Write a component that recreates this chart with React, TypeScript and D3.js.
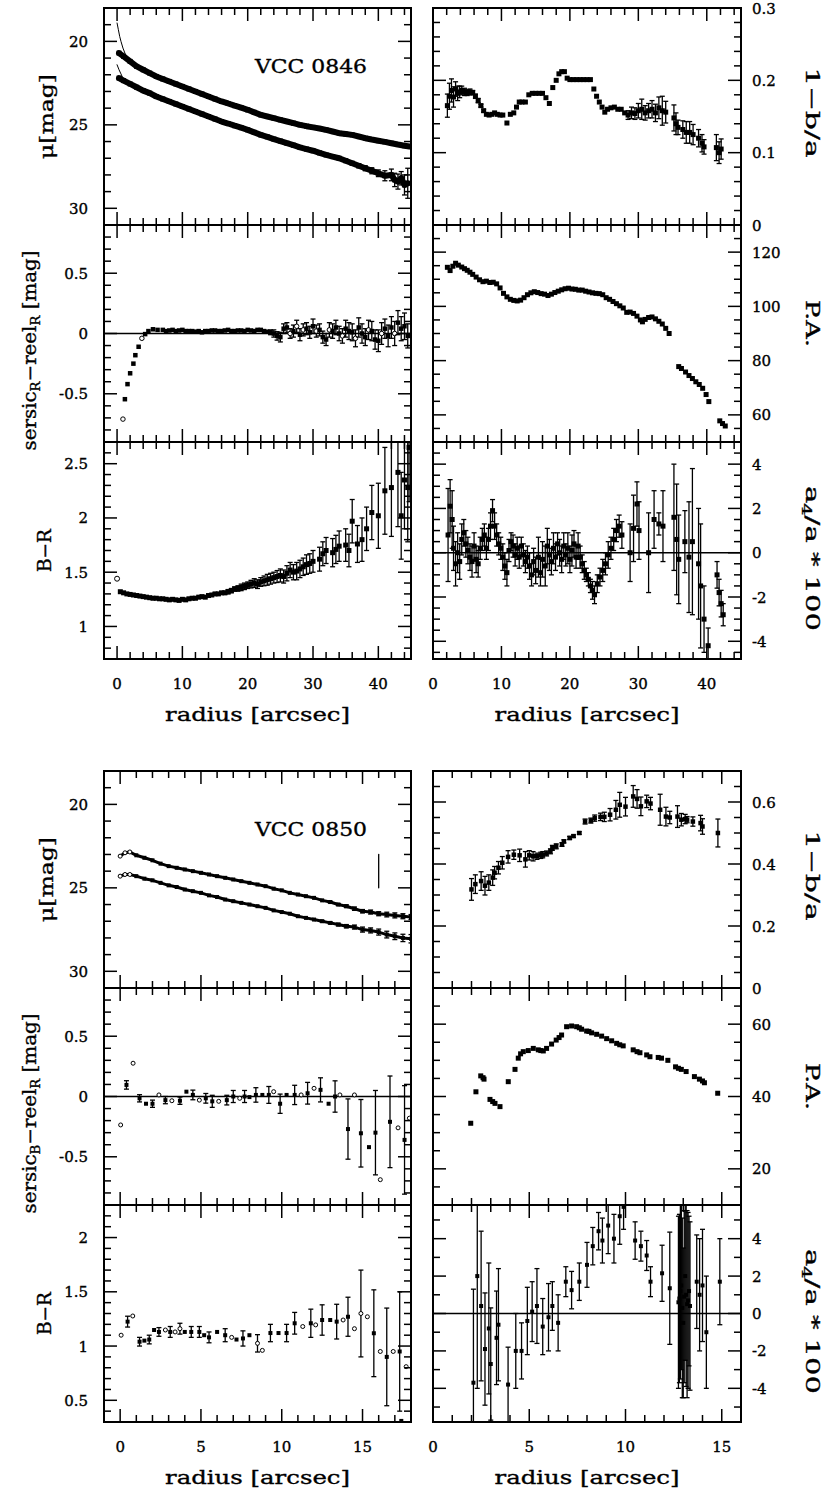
import React from "react";
import * as d3 from "d3";

type Row = number[]; // [radius, value, error?, open?]

// ---------------- VCC 0846 ----------------
const muR0846: Row[] = [[0.3,20.7],[1,20.9],[2,21.2],[3,21.5],[4,21.7],[5,21.9],[6,22.1],[7,22.25],[8,22.4],[9,22.55],[10,22.7],[11,22.85],[12,23.0],[13,23.15],[14,23.3],[15,23.45],[16,23.6],[17,23.72],[18,23.85],[19,23.97],[20,24.1],[21,24.25],[22,24.4],[23,24.5],[24,24.6],[25,24.7],[26,24.8],[27,24.9],[28,25.0],[29,25.08],[30,25.15],[31,25.22],[32,25.3],[33,25.4],[34,25.5],[35,25.55],[36,25.6],[37,25.7],[38,25.8],[39,25.88],[40,25.95],[41,26.02],[42,26.1],[43,26.18],[44,26.25],[44.8,26.3]];
const muB0846: Row[] = [[0.3,22.2],[1,22.35],[2,22.55],[3,22.75],[4,22.95],[5,23.1],[6,23.3],[7,23.45],[8,23.6],[9,23.75],[10,23.9],[11,24.05],[12,24.2],[13,24.35],[14,24.5],[15,24.65],[16,24.8],[17,24.92],[18,25.05],[19,25.17],[20,25.3],[21,25.45],[22,25.6],[23,25.72],[24,25.85],[25,25.97],[26,26.1],[27,26.22],[28,26.35],[29,26.45],[30,26.55],[31,26.68],[32,26.8],[33,26.9],[34,27.0,0.05],[35,27.15,0.08],[36,27.3,0.1],[37,27.45,0.12],[38,27.6,0.15],[39,27.75,0.18],[40,27.9,0.2],[41,28.05,0.3],[42,28.0,0.35],[42.5,28.3,0.4],[43,28.4,0.45],[43.5,28.2,0.4],[44,28.6,0.6],[44.5,28.5,0.9]];
const fitR0846: Row[] = [[0,18.9],[0.2,19.3],[0.4,19.7],[0.6,20.0],[0.9,20.4],[1.3,20.8],[1.8,21.1]];
const fitB0846: Row[] = [[0,21.4],[0.3,21.7],[0.6,21.95],[1.0,22.3],[1.5,22.5]];
const ell0846: Row[] = [[2.1,0.165,0.016],[2.4,0.178,0.018],[2.7,0.186,0.016],[3.0,0.177,0.014],[3.3,0.188,0.01],[3.6,0.182,0.01],[3.9,0.184,0.008],[4.2,0.186,0.006],[4.6,0.184,0.005],[5.0,0.183,0.004],[5.4,0.184,0.004],[5.8,0.183,0.003],[6.2,0.178,0.003],[6.6,0.172,0.003],[7.0,0.165,0.002],[7.4,0.158,0.002],[7.8,0.153],[8.2,0.152],[8.6,0.153],[9.0,0.155],[9.4,0.153],[9.8,0.152],[10.2,0.152],[10.8,0.141],[11.3,0.153],[11.8,0.155],[12.2,0.163],[12.6,0.17],[13.0,0.17],[13.5,0.17],[14.0,0.18],[14.5,0.182],[15.0,0.182],[15.5,0.182],[16.0,0.182],[16.5,0.176],[17.0,0.168],[17.5,0.19],[18.0,0.2],[18.4,0.209],[18.8,0.212],[19.2,0.212],[19.6,0.203],[20.0,0.201],[20.5,0.201],[21.0,0.201],[21.5,0.201],[22.0,0.201],[22.5,0.201],[23.0,0.201],[23.5,0.188],[23.9,0.178],[24.3,0.17],[24.7,0.163],[25.1,0.156],[25.5,0.16],[26.0,0.162],[26.5,0.163],[27.0,0.16],[27.5,0.16],[28.0,0.155],[28.5,0.152,0.006],[29.0,0.155,0.008],[29.5,0.154,0.008],[30.0,0.158,0.01],[30.5,0.16,0.014],[31.0,0.155,0.01],[31.5,0.158,0.01],[32.0,0.16,0.012],[32.5,0.155,0.012],[33.0,0.162,0.015],[33.5,0.158,0.02],[34.0,0.156,0.015],[35.2,0.148,0.018],[35.5,0.14,0.015],[35.8,0.135,0.01],[36.5,0.132,0.012],[37.0,0.128,0.015],[37.5,0.128,0.015],[38.0,0.125,0.014],[38.8,0.12,0.012],[39.3,0.113,0.012],[39.6,0.108,0.01],[41.4,0.107,0.018],[41.8,0.1,0.015],[42.1,0.105,0.014]];
const res0846: Row[] = [[0.9,-0.71,0,1],[1.2,-0.545],[1.6,-0.42],[2.0,-0.33],[2.5,-0.25],[2.8,-0.18],[3.3,-0.11],[3.8,-0.04,0,1],[4.3,-0.005],[4.8,0.02],[5.5,0.035],[6.2,0.03],[7,0.03],[7.5,0.02],[8,0.025],[8.5,0.03],[9,0.02],[9.5,0.025],[10,0.03],[10.5,0.02],[11,0.02],[11.5,0.02],[12,0.015],[12.5,0.02],[13,0.01],[13.5,0.02],[14,0.02],[14.5,0.025],[15,0.025],[15.5,0.02],[16,0.02],[16.5,0.025],[17,0.03],[17.5,0.02],[18,0.02],[18.5,0.025],[19,0.025],[19.5,0.02],[20,0.03],[20.5,0.025],[21,0.02],[21.5,0.03],[22,0.03],[22.5,0.02],[23,0.015],[23.5,0.01,0.02],[24,0.0,0.03],[24.5,-0.02,0.035],[25,-0.03,0.04],[25.5,0.04,0.04],[26,0.05,0.04],[26.5,0.0,0.04,1],[27,0.02,0.05],[27.5,0.06,0.05,1],[28,-0.01,0.05],[28.5,0.03,0.05,1],[29,0.04,0.05],[29.5,0.01,0.05],[30,0.06,0.06],[30.5,0.02,0.05,1],[31,0.03,0.05],[31.5,-0.03,0.05],[32,-0.05,0.05],[32.5,0.03,0.06,1],[33,0.02,0.06],[33.5,0.05,0.06],[34,0.0,0.06],[34.5,-0.02,0.06,1],[35,0.04,0.07],[35.5,0.02,0.07],[36,0.01,0.07],[36.5,-0.04,0.07,1],[37,0.05,0.08],[37.5,0.0,0.08],[38,-0.03,0.07],[38.5,0.03,0.08,1],[39,0.02,0.08],[39.5,-0.05,0.08],[40,-0.06,0.09],[40.5,0.0,0.09,1],[41,0.04,0.08],[41.5,-0.02,0.09],[42,0.05,0.09],[42.5,0.0,0.1,1],[43,0.09,0.1],[43.5,0.04,0.1],[44,0.06,0.11],[44.5,-0.02,0.1]];
const pa0846: Row[] = [[2.1,114.4],[2.5,113.2],[2.9,114.8],[3.3,115.9],[3.7,115.2],[4.2,114.5],[4.6,113.9],[5.0,113.3],[5.4,112.6],[5.8,111.8],[6.3,110.8],[6.8,109.8],[7.3,109.1],[7.8,109.3],[8.3,108.8],[8.8,108.9],[9.3,108.3],[9.8,106.8],[10.3,104.8],[10.8,103.5],[11.3,102.6],[11.8,102.2],[12.3,102.0],[12.8,102.3],[13.3,103.2],[13.8,104.3],[14.3,105.0],[14.8,105.4],[15.3,105.1],[15.8,104.7],[16.3,104.5],[16.8,104.0],[17.3,104.5],[17.8,105.1],[18.3,105.6],[18.8,106.1],[19.3,106.5],[19.8,106.7],[20.3,106.4],[20.8,106.3],[21.3,106.0],[21.8,106.0],[22.3,105.6],[22.8,105.3],[23.3,105.0],[23.8,104.8],[24.3,104.7],[24.8,104.3],[25.3,103.2],[25.8,102.6],[26.3,101.8],[26.8,101.0],[27.3,100.2],[27.8,99.4],[28.3,97.8],[28.8,97.9],[29.3,97.4],[29.8,96.4],[30.3,95.0],[30.6,94.3],[31.0,95.2],[31.5,95.9],[32.0,96.1],[32.5,95.4],[33.0,94.5],[33.5,93.5],[34.0,91.9],[34.5,90.0],[35.9,77.8],[36.3,77.1],[36.9,75.8],[37.4,74.5],[37.9,73.4],[38.4,72.2],[38.9,71.2],[39.4,69.8],[39.9,67.5],[40.3,64.9],[41.9,57.8],[42.3,56.8],[42.7,55.9]];
const br0846: Row[] = [[0,1.44,0,1],[0.5,1.32],[1,1.31],[1.5,1.3],[2,1.295],[2.5,1.29],[3,1.285],[3.5,1.28],[4,1.275],[4.5,1.27],[5,1.265],[5.5,1.26],[6,1.26],[6.5,1.255],[7,1.255],[7.5,1.25],[8,1.245],[8.5,1.25],[9,1.245],[9.5,1.24],[10,1.25],[10.5,1.245],[11,1.255],[11.5,1.26],[12,1.26],[12.5,1.27],[13,1.275],[13.5,1.27],[14,1.285],[14.5,1.29],[15,1.3,0.01],[15.5,1.3,0.01],[16,1.31,0.01],[16.5,1.31,0.015],[17,1.32,0.02],[17.5,1.33,0.02],[18,1.345,0.02],[18.5,1.35,0.025],[19,1.36,0.03],[19.5,1.37,0.03],[20,1.38,0.03],[20.5,1.39,0.035],[21,1.4,0.04],[21.5,1.39,0.04],[22,1.41,0.04],[22.5,1.42,0.045],[23,1.43,0.05],[23.5,1.44,0.05],[24,1.45,0.05],[24.5,1.46,0.055],[25,1.47,0.06],[25.5,1.46,0.06],[26,1.49,0.07],[26.5,1.52,0.07],[27,1.5,0.07],[27.5,1.51,0.08],[28,1.53,0.08],[28.5,1.55,0.08],[29,1.57,0.09],[29.5,1.58,0.09],[30,1.6,0.1],[31,1.62,0.11],[31.5,1.67,0.11],[32,1.7,0.12],[33,1.68,0.13],[33.5,1.71,0.13],[34,1.74,0.14],[35,1.75,0.15],[35.5,1.7,0.15],[36,1.97,0.2],[36.8,1.76,0.17],[37.5,1.8,0.2],[38.2,1.9,0.2],[39,2.05,0.25],[40,2.02,0.3],[41,2.25,0.4],[42,2.28,0.45],[43,2.42,0.5],[43.5,2.02,0.4],[44,2.35,0.45],[44.5,2.28,0.5],[44.7,2.65,0.5]];
const a40846: Row[] = [[2.2,0.8,2.1],[2.5,2.1,1.2],[2.8,1.5,1.3],[3.0,0.2,1.0],[3.3,-0.5,1.0],[3.6,0.0,0.9],[3.9,-0.4,0.8],[4.2,0.6,0.7],[4.5,0.9,0.6],[4.8,0.4,0.6],[5.1,0.1,0.6],[5.4,-0.2,0.6],[5.7,-0.4,0.7],[6.0,0.3,0.6],[6.3,-0.3,0.6],[6.6,-0.5,0.6],[6.9,0.2,0.5],[7.2,0.6,0.5],[7.5,0.8,0.5],[7.8,0.2,0.5],[8.1,0.6,0.5],[8.4,1.2,0.6],[8.7,1.9,0.5],[9.0,1.2,0.6],[9.3,0.8,0.5],[9.6,0.4,0.5],[9.9,0.2,0.5],[10.2,-0.2,0.6],[10.5,-0.6,0.6],[10.8,-0.9,0.6],[11.1,0.1,0.5],[11.4,0.5,0.4],[11.7,0.3,0.5],[12.0,-0.1,0.5],[12.3,0.2,0.5],[12.6,-0.2,0.5],[12.9,0.3,0.4],[13.2,-0.1,0.5],[13.5,-0.4,0.5],[13.8,-0.2,0.5],[14.1,-0.6,0.6],[14.4,-1.0,0.5],[14.7,-0.4,0.6],[15.0,-0.8,0.6],[15.4,-0.2,0.9],[15.7,-0.9,0.6],[16.0,-0.3,0.8],[16.4,-0.6,0.9],[16.7,0.3,0.8],[17.0,-0.1,0.7],[17.3,-0.4,0.6],[17.6,0.2,0.7],[17.9,-0.2,0.6],[18.2,0.4,0.5],[18.5,0.0,0.6],[18.8,-0.3,0.6],[19.1,0.3,0.6],[19.4,-0.1,0.5],[19.7,0.2,0.7],[20.0,-0.3,0.6],[20.3,0.1,0.7],[20.6,0.4,0.6],[20.9,-0.2,0.5],[21.2,0.3,0.6],[21.5,-0.2,0.5],[21.8,-0.5,0.4],[22.1,-0.8,0.4],[22.4,-1.0,0.3],[22.7,-1.2,0.3],[23.0,-1.5,0.3],[23.3,-1.7,0.4],[23.6,-1.9,0.4],[24.0,-1.4,0.4],[24.4,-1.1,0.4],[24.8,-0.8,0.5],[25.2,-0.5,0.5],[25.6,-0.1,0.6],[26.0,0.2,0.5],[26.4,0.6,0.5],[26.8,1.0,0.5],[27.2,1.2,0.5],[27.6,0.8,0.6],[28.8,0.0,1.3],[29.3,1.1,1.5],[29.8,2.2,1.0],[30.1,1.0,1.3],[31.5,0.0,1.8],[32.3,1.5,1.3],[33.0,1.3,0.5],[33.6,1.2,1.6],[35.2,1.6,2.4],[35.6,0.6,2.5],[35.9,-0.3,2.0],[36.8,0.5,1.4],[37.4,-0.2,2.5],[37.9,0.5,3.3],[38.8,-0.5,2.5],[39.1,-1.5,2.8],[39.6,-3.0,1.5],[40.2,-4.2,0.8],[41.5,-1.0,0.6],[41.8,-1.8,0.6],[42.1,-2.3,0.6],[42.4,-2.8,0.5]];

// ---------------- VCC 0850 ----------------
const muR0850: Row[] = [[0,23.1,0,1],[0.3,22.9,0,1],[0.6,22.85,0,1],[1,23.05],[1.5,23.2],[2,23.35],[2.5,23.55],[3,23.7],[3.5,23.8],[4,23.9],[4.5,24.0],[5,24.1],[5.5,24.2],[6,24.3],[6.5,24.4],[7,24.5],[7.5,24.6],[8,24.7],[8.5,24.8],[9,24.9],[9.5,25.05],[10,25.15],[10.5,25.3],[11,25.4],[11.5,25.5],[12,25.6],[12.5,25.75],[13,25.85,0.05],[13.5,26.0,0.06],[14,26.1,0.08],[14.5,26.25,0.1],[15,26.4,0.1],[15.5,26.45,0.12],[16,26.55,0.12],[16.5,26.6,0.14],[17,26.65,0.15],[17.5,26.7,0.15],[18,26.75,0.15]];
const muB0850: Row[] = [[0,24.3,0,1],[0.3,24.2,0,1],[0.6,24.2,0,1],[1,24.3],[1.5,24.45],[2,24.55],[2.5,24.7],[3,24.85],[3.5,24.95],[4,25.1],[4.5,25.2],[5,25.3],[5.5,25.45],[6,25.55],[6.5,25.7],[7,25.8],[7.5,25.9],[8,26.0],[8.5,26.1],[9,26.2],[9.5,26.35],[10,26.45],[10.5,26.55],[11,26.7],[11.5,26.8],[12,26.9],[12.5,27.0,0.05],[13,27.1,0.06],[13.5,27.2,0.08],[14,27.3,0.1],[14.5,27.35,0.12],[15,27.5,0.15],[15.5,27.55,0.15],[16,27.65,0.18],[16.5,27.8,0.2],[17,27.9,0.2],[17.5,28.0,0.22],[18,28.05,0.25]];
const marker0850: Row[] = [[16,23],[16,25]];
const ell0850: Row[] = [[2.0,0.318,0.035],[2.2,0.335,0.03],[2.5,0.345,0.03],[2.7,0.33,0.03],[2.9,0.34,0.025],[3.1,0.356,0.025],[3.2,0.372,0.02],[3.4,0.388,0.02],[3.6,0.404,0.02],[3.9,0.423,0.02],[4.2,0.43,0.015],[4.5,0.428,0.02],[4.8,0.415,0.025],[5.0,0.428,0.015],[5.2,0.425,0.015],[5.4,0.425,0.01],[5.6,0.428,0.01],[5.7,0.43,0.01],[5.9,0.434,0.008],[6.1,0.441,0.008],[6.2,0.452,0.008],[6.4,0.457,0.008],[6.7,0.463,0.006],[6.8,0.473,0.005],[7.1,0.484,0.005],[7.3,0.49,0.004],[7.6,0.5,0.004],[7.9,0.537,0.008],[8.2,0.54,0.008],[8.4,0.548,0.01],[8.7,0.552,0.012],[8.9,0.552,0.015],[9.2,0.559,0.02],[9.5,0.575,0.03],[9.7,0.591,0.04],[10.0,0.585,0.03],[10.4,0.618,0.035],[10.6,0.61,0.03],[10.8,0.586,0.03],[11.1,0.602,0.02],[11.3,0.595,0.02],[11.8,0.575,0.05],[12.1,0.553,0.03],[12.3,0.55,0.02],[12.7,0.553,0.035],[12.9,0.543,0.02],[13.1,0.545,0.015],[13.2,0.543,0.01],[13.5,0.537,0.015],[13.9,0.532,0.025],[14.0,0.521,0.025],[14.8,0.5,0.045]];
const res0850: Row[] = [[0.03,-0.236,0,1],[0.39,0.096,0.035],[0.8,0.276,0,1],[1.2,-0.015,0.03],[1.6,-0.06],[2.0,-0.06,0.03],[2.4,0.013,0,1],[2.8,-0.03,0.03],[3.2,-0.035,0,1],[3.7,-0.035,0.03],[4.1,0.04],[4.5,0.013,0.04],[4.9,-0.03,0,1],[5.3,-0.015,0.04],[5.7,-0.04,0.05],[6.1,-0.04,0,1],[6.6,-0.03,0.04],[7.0,0.0,0.05],[7.4,-0.015,0,1],[7.7,0.0,0.05],[8.0,-0.005],[8.4,0.013,0.06],[8.8,0.013],[9.2,0.013,0.07],[9.5,0.04,0,1],[9.9,-0.06,0.08],[10.3,0.013],[10.8,0.013,0.08],[11.2,0.013,0,1],[11.6,0.027,0.09],[12.0,0.068,0,1],[12.4,0.055,0.1],[12.9,-0.06],[13.3,0.0,0.13],[13.6,0.013,0,1],[14.1,-0.27,0.25],[14.5,0.013,0,1],[14.9,-0.305,0.28],[15.4,-0.42],[15.8,-0.3,0.35],[16.1,-0.69,0,1],[16.7,-0.21,0.38],[17.2,-0.26,0,1],[17.6,-0.36,0.45],[17.9,-0.18,0,1]];
const pa0850: Row[] = [[1.96,32.6],[2.23,41.3],[2.48,45.7],[2.6,45.2],[2.65,44.8],[2.96,39.2],[3.1,38.6],[3.22,38.1],[3.48,37.2],[3.91,44.1],[4.26,47.5],[4.43,50.6],[4.55,51.8],[4.69,52.4],[4.95,52.7],[5.21,53.3],[5.47,52.9],[5.6,52.7],[5.73,52.6],[5.9,53.3],[6.16,54.5],[6.4,55.6],[6.55,56.3],[6.68,57.0],[6.94,59.3],[7.2,59.5],[7.46,59.3],[7.6,59.0],[7.72,58.6],[7.98,58.1],[8.1,58.0],[8.24,57.6],[8.5,57.2],[8.76,56.7],[9.02,56.0],[9.28,55.4],[9.54,54.7],[9.7,54.3],[9.88,54.0],[10.4,52.9],[10.6,52.4],[10.75,52.1],[11.1,51.5],[11.27,51.0],[11.7,50.8],[11.87,50.6],[12.2,50.0],[12.6,48.2],[12.75,47.8],[12.9,47.5],[13.15,46.9],[13.58,45.5],[13.84,44.8],[14.0,44.3],[14.1,43.8],[14.79,40.9]];
const br0850: Row[] = [[0.06,1.10,0,1],[0.46,1.225,0.05],[0.78,1.277,0,1],[1.2,1.04,0.04],[1.5,1.05],[1.8,1.06,0.04],[2.1,1.148],[2.4,1.13,0.04],[2.8,1.148,0,1],[3.1,1.13,0.05],[3.4,1.13,0,1],[3.7,1.16,0.05,1],[4.0,1.13],[4.4,1.13,0.05],[4.9,1.13,0.05],[5.2,1.10],[5.5,1.08,0.05],[6.0,1.13],[6.5,1.10,0.06],[6.9,1.08,0,1],[7.2,1.06],[7.6,1.07,0.07],[8.0,1.10],[8.5,1.025,0.08,1],[8.8,0.96,0,1],[9.3,1.12,0.08],[9.8,1.12],[10.3,1.12,0.08],[10.8,1.21,0.1],[11.3,1.18,0,1],[11.8,1.21,0.13],[12.1,1.195,0,1],[12.5,1.24,0.14],[13.0,1.24],[13.4,1.225,0.16],[13.8,1.24,0,1],[14.1,1.27,0.18],[14.5,1.16,0,1],[14.9,1.3,0.4,1],[15.3,1.27,0,1],[15.7,1.118,0.4],[16.1,0.95,0,1],[16.5,0.9,0.45],[16.9,0.95,0,1],[17.3,0.95,0.55],[17.4,0.31],[17.7,0.81,0,1]];
const a40850: Row[] = [[2.1,-3.7,5],[2.3,2.0,6],[2.5,0.4,4],[2.7,-1.9,3],[2.9,-0.8,3.5],[3.0,-2.7,3],[3.3,-1.3,2.5],[3.4,-0.6,3],[3.9,-3.8,2],[4.3,-2.0,2],[4.6,-2.0,1.5],[4.9,-0.4,1.8],[5.15,0.1,1.6],[5.4,0.4,2.0],[5.7,-0.7,1.5],[6.0,-0.2,1.8],[6.2,0.4,1.3],[6.5,-0.5,1.5],[6.9,1.7,0.8],[7.2,1.25,1.0],[7.6,1.7,1.0],[8.0,2.6,1.2],[8.3,3.6,1.0],[8.6,4.4,1.0],[8.8,3.9,1.2],[9.1,4.7,1.5],[9.4,4.0,1.3],[9.7,5.2,1.5],[9.9,5.7,1.2],[10.5,3.9,1.0],[10.8,3.6,0.8],[11.1,3.1,0.8],[11.3,1.7,0.8],[11.9,2.15,1.5],[12.3,1.35,3.0],[12.75,0.6,4.6],[12.8,0.8,4.5],[12.85,1.2,4.7],[12.9,1.5,4.5],[12.95,0.3,4.8],[13.0,-0.5,4.0],[13.05,0.9,4.6],[13.1,2.0,4.5],[13.15,1.0,4.9],[13.2,0.5,5.0],[13.25,0.7,4.7],[13.3,1.2,4.0],[13.35,0.4,4.5],[13.7,1.7,2.5],[13.85,1.0,3.0],[14.0,1.5,3.0],[14.2,-1.0,3.0],[14.9,1.7,2.3]];

// ---------------- axis ticks ----------------
const xMajorTop = [0, 10, 20, 30, 40];
const xMajorBottom = [0, 5, 10, 15];
const muTicks = [20, 25, 30];
const resTicks = [0.5, 0, -0.5];
const brTicksTop = [2.5, 2, 1.5, 1];
const brTicksBottom = [2, 1.5, 1, 0.5];
const ellTicksTop = [0.3, 0.2, 0.1, 0];
const ellTicksBottom = [0.6, 0.4, 0.2, 0];
const paTicksTop = [120, 100, 80, 60];
const paTicksBottom = [60, 40, 20];
const a4Ticks = [4, 2, 0, -2, -4];

const FONT = "'DejaVu Serif', 'Liberation Serif', serif";

interface Series { data: Row[]; size: number; line?: number; thin?: boolean; noMarker?: boolean }
interface PanelSpec {
  x0: number; x1: number; y0: number; y1: number;
  xDom: [number, number]; yDom: [number, number];
  xMajor: number[]; xMinor: number;
  yMajor: number[]; yMinor: number;
  ySide: "left" | "right";
  xLabels?: boolean; zero?: boolean;
  series: Series[];
}

function steps(a: number, b: number, s: number) {
  const lo = Math.min(a, b), hi = Math.max(a, b);
  const out: number[] = [];
  for (let k = Math.ceil(lo / s - 1e-9); k * s <= hi + 1e-9; k++) out.push(+(k * s).toFixed(6));
  return out;
}

function Panel({ p, id }: { p: PanelSpec; id: string }) {
  const xs = d3.scaleLinear().domain(p.xDom).range([p.x0, p.x1]);
  const ys = d3.scaleLinear().domain(p.yDom).range([p.y1, p.y0]);
  const isMaj = (arr: number[], v: number) => arr.some((m) => Math.abs(m - v) < 1e-6);
  const xT = steps(p.xDom[0], p.xDom[1], p.xMinor).filter((v) => xs(v) > p.x0 + 0.5 && xs(v) < p.x1 - 0.5);
  const yT = steps(p.yDom[0], p.yDom[1], p.yMinor).filter((v) => ys(v) > p.y0 + 0.5 && ys(v) < p.y1 - 0.5);
  const MJ = 13, MN = 7;
  const line = d3.line<Row>().x((d) => xs(d[0])).y((d) => ys(d[1]));
  return (
    <g>
      <defs>
        <clipPath id={id}><rect x={p.x0} y={p.y0} width={p.x1 - p.x0} height={p.y1 - p.y0} /></clipPath>
      </defs>
      <g clipPath={`url(#${id})`}>
        {p.zero && <line x1={p.x0} x2={p.x1} y1={ys(0)} y2={ys(0)} stroke="#000" strokeWidth={1.4} />}
        {p.series.map((s, si) => (
          <g key={si}>
            {(s.line || s.thin) && (
              <path d={line(s.data) || ""} fill="none" stroke="#000" strokeWidth={s.thin ? 1 : s.line}
                strokeLinejoin="round" strokeLinecap="round" />
            )}
            {!s.noMarker && s.data.map((d, i) => {
              const cx = xs(d[0]), cy = ys(d[1]);
              const e = d[2] || 0;
              const open = d[3] === 1;
              return (
                <g key={i}>
                  {e > 0 && (
                    <g stroke="#000" strokeWidth={1.3}>
                      <line x1={cx} x2={cx} y1={ys(d[1] - e)} y2={ys(d[1] + e)} />
                      <line x1={cx - 2.5} x2={cx + 2.5} y1={ys(d[1] - e)} y2={ys(d[1] - e)} />
                      <line x1={cx - 2.5} x2={cx + 2.5} y1={ys(d[1] + e)} y2={ys(d[1] + e)} />
                    </g>
                  )}
                  {open ? (
                    <circle cx={cx} cy={cy} r={s.size / 2} fill="#fff" stroke="#000" strokeWidth={1} />
                  ) : (
                    <rect x={cx - s.size / 2} y={cy - s.size / 2} width={s.size} height={s.size} fill="#000" />
                  )}
                </g>
              );
            })}
          </g>
        ))}
      </g>
      <rect x={p.x0} y={p.y0} width={p.x1 - p.x0} height={p.y1 - p.y0} fill="none" stroke="#000" strokeWidth={2} />
      <g stroke="#000" strokeWidth={1.5}>
        {xT.map((v) => {
          const L = isMaj(p.xMajor, v) ? MJ : MN;
          const x = xs(v);
          return (
            <g key={"x" + v}>
              <line x1={x} x2={x} y1={p.y1} y2={p.y1 - L} />
              <line x1={x} x2={x} y1={p.y0} y2={p.y0 + L} />
            </g>
          );
        })}
        {yT.map((v) => {
          const L = isMaj(p.yMajor, v) ? MJ : MN;
          const y = ys(v);
          return (
            <g key={"y" + v}>
              <line x1={p.x0} x2={p.x0 + L} y1={y} y2={y} />
              <line x1={p.x1} x2={p.x1 - L} y1={y} y2={y} />
            </g>
          );
        })}
      </g>
      <g fontFamily={FONT} fontSize={15} fill="#000" stroke="#000" strokeWidth={0.35}>
        {p.yMajor.map((v) => (
          <text key={"yl" + v} x={p.ySide === "left" ? p.x0 - 16 : p.x1 + 11} y={ys(v) + 5.5}
            textAnchor={p.ySide === "left" ? "end" : "start"}>{String(v)}</text>
        ))}
        {p.xLabels && p.xMajor.map((v) => (
          <text key={"xl" + v} x={xs(v)} y={p.y1 + 30} textAnchor="middle">{String(v)}</text>
        ))}
      </g>
    </g>
  );
}

const LX: [number, number] = [104, 411];
const RX: [number, number] = [433, 741];
const TOPROWS = [8, 225, 442, 659];
const BOTROWS = [771, 988, 1205, 1422];

function buildPanels(): PanelSpec[] {
  const t = TOPROWS, b = BOTROWS;
  return [
    { x0: LX[0], x1: LX[1], y0: t[0], y1: t[1], xDom: [-2, 45], yDom: [31, 18], xMajor: xMajorTop, xMinor: 2, yMajor: muTicks, yMinor: 1, ySide: "left",
      series: [{ data: muR0846, size: 5, line: 6 }, { data: muB0846, size: 5, line: 6 }, { data: fitR0846, size: 0, thin: true, noMarker: true }, { data: fitB0846, size: 0, thin: true, noMarker: true }] },
    { x0: LX[0], x1: LX[1], y0: t[1], y1: t[2], xDom: [-2, 45], yDom: [-0.9, 0.9], xMajor: xMajorTop, xMinor: 2, yMajor: resTicks, yMinor: 0.1, ySide: "left", zero: true,
      series: [{ data: res0846, size: 4.5 }] },
    { x0: LX[0], x1: LX[1], y0: t[2], y1: t[3], xDom: [-2, 45], yDom: [0.7, 2.7], xMajor: xMajorTop, xMinor: 2, yMajor: brTicksTop, yMinor: 0.1, ySide: "left", xLabels: true,
      series: [{ data: br0846, size: 5 }] },
    { x0: RX[0], x1: RX[1], y0: t[0], y1: t[1], xDom: [0, 45], yDom: [0, 0.3], xMajor: xMajorTop, xMinor: 2, yMajor: ellTicksTop, yMinor: 0.02, ySide: "right",
      series: [{ data: ell0846, size: 5 }] },
    { x0: RX[0], x1: RX[1], y0: t[1], y1: t[2], xDom: [0, 45], yDom: [50, 130], xMajor: xMajorTop, xMinor: 2, yMajor: paTicksTop, yMinor: 5, ySide: "right",
      series: [{ data: pa0846, size: 5 }] },
    { x0: RX[0], x1: RX[1], y0: t[2], y1: t[3], xDom: [0, 45], yDom: [-4.8, 5], xMajor: xMajorTop, xMinor: 2, yMajor: a4Ticks, yMinor: 0.5, ySide: "right", xLabels: true, zero: true,
      series: [{ data: a40846, size: 5 }] },
    { x0: LX[0], x1: LX[1], y0: b[0], y1: b[1], xDom: [-1, 18], yDom: [31, 18], xMajor: xMajorBottom, xMinor: 1, yMajor: muTicks, yMinor: 1, ySide: "left",
      series: [{ data: muR0850, size: 4, line: 3 }, { data: muB0850, size: 4, line: 3 }, { data: marker0850, size: 0, line: 1.3, noMarker: true }] },
    { x0: LX[0], x1: LX[1], y0: b[1], y1: b[2], xDom: [-1, 18], yDom: [-0.9, 0.9], xMajor: xMajorBottom, xMinor: 1, yMajor: resTicks, yMinor: 0.1, ySide: "left", zero: true,
      series: [{ data: res0850, size: 4 }] },
    { x0: LX[0], x1: LX[1], y0: b[2], y1: b[3], xDom: [-1, 18], yDom: [0.3, 2.3], xMajor: xMajorBottom, xMinor: 1, yMajor: brTicksBottom, yMinor: 0.1, ySide: "left", xLabels: true,
      series: [{ data: br0850, size: 4 }] },
    { x0: RX[0], x1: RX[1], y0: b[0], y1: b[1], xDom: [0, 16], yDom: [0, 0.7], xMajor: xMajorBottom, xMinor: 1, yMajor: ellTicksBottom, yMinor: 0.05, ySide: "right",
      series: [{ data: ell0850, size: 4.5 }] },
    { x0: RX[0], x1: RX[1], y0: b[1], y1: b[2], xDom: [0, 16], yDom: [10, 70], xMajor: xMajorBottom, xMinor: 1, yMajor: paTicksBottom, yMinor: 5, ySide: "right",
      series: [{ data: pa0850, size: 5 }] },
    { x0: RX[0], x1: RX[1], y0: b[2], y1: b[3], xDom: [0, 16], yDom: [-5.8, 5.8], xMajor: xMajorBottom, xMinor: 1, yMajor: a4Ticks, yMinor: 1, ySide: "right", xLabels: true, zero: true,
      series: [{ data: a40850, size: 4 }] },
  ];
}

function VTitle({ x, y, rot, len, children }: { x: number; y: number; rot: number; len: number; children: React.ReactNode }) {
  return (
    <text transform={`translate(${x},${y}) rotate(${rot})`} textAnchor="middle" fontFamily={FONT} fontSize={18}
      textLength={len} lengthAdjust="spacingAndGlyphs" dy={6}>{children}</text>
  );
}

function Sersic({ x, y, band }: { x: number; y: number; band: string }) {
  return (
    <text transform={`translate(${x},${y}) rotate(-90)`} textAnchor="middle" fontFamily={FONT} fontSize={18} dy={6}
      textLength={200} lengthAdjust="spacingAndGlyphs">
      sersic<tspan fontSize={12} dy={4}>{band}</tspan><tspan dy={-4}>−reel</tspan><tspan fontSize={12} dy={4}>R</tspan><tspan dy={-4}> [mag]</tspan>
    </text>
  );
}

function A4({ x, y }: { x: number; y: number }) {
  return (
    <text transform={`translate(${x},${y}) rotate(90)`} textAnchor="middle" fontFamily={FONT} fontSize={18} dy={6}
      textLength={145} lengthAdjust="spacingAndGlyphs">
      a<tspan fontSize={12} dy={4}>4</tspan><tspan dy={-4}>/a * 100</tspan>
    </text>
  );
}

export default function App() {
  const panels = buildPanels();
  const groups = [
    { rows: TOPROWS, name: "VCC 0846" },
    { rows: BOTROWS, name: "VCC 0850" },
  ];
  return (
    <svg width={825} height={1495} style={{ position: "absolute", left: 0, top: 0, background: "#fff" }}>
      <rect x={0} y={0} width={825} height={1495} fill="#fff" />
      {panels.map((p, i) => <Panel key={i} p={p} id={"clip" + i} />)}
      {groups.map((g, gi) => {
        const r = g.rows;
        const c = (k: number) => (r[k] + r[k + 1]) / 2;
        return (
          <g key={gi} fill="#000" stroke="#000" strokeWidth={0.35}>
            <text x={255} y={r[0] + 65} fontFamily={FONT} fontSize={19} textLength={112} lengthAdjust="spacingAndGlyphs">{g.name}</text>
            <VTitle x={47} y={c(0)} rot={-90} len={85}>μ[mag]</VTitle>
            <Sersic x={30} y={c(1) + 17} band={gi === 0 ? "R" : "B"} />
            <VTitle x={45} y={c(2)} rot={-90} len={43}>B−R</VTitle>
            <VTitle x={812} y={c(0) - 4} rot={90} len={90}>1−b/a</VTitle>
            <VTitle x={812} y={c(1) - 10} rot={90} len={47}>P.A.</VTitle>
            <A4 x={812} y={c(2) + 8} />
            <text x={(LX[0] + LX[1]) / 2} y={r[3] + 62} textAnchor="middle" fontFamily={FONT} fontSize={19} textLength={185} lengthAdjust="spacingAndGlyphs">radius [arcsec]</text>
            <text x={(RX[0] + RX[1]) / 2} y={r[3] + 62} textAnchor="middle" fontFamily={FONT} fontSize={19} textLength={185} lengthAdjust="spacingAndGlyphs">radius [arcsec]</text>
          </g>
        );
      })}
    </svg>
  );
}
